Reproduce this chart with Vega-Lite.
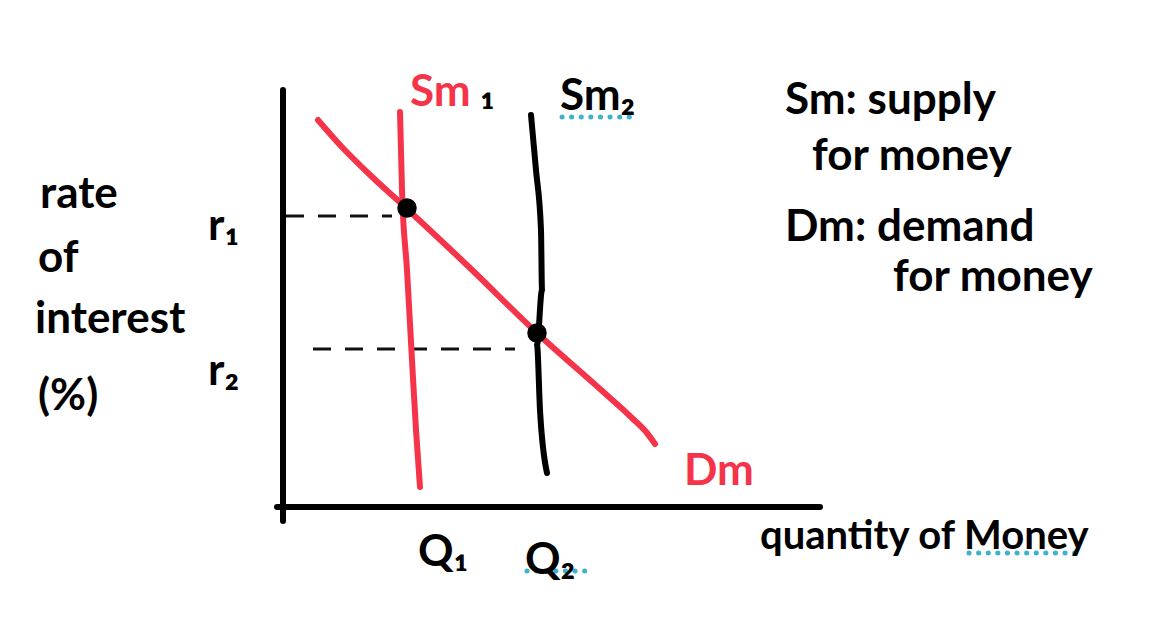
{
  "$schema": "https://vega.github.io/schema/vega-lite/v6.json",
  "width": 1157,
  "height": 617,
  "autosize": {"type": "none"},
  "padding": 0,
  "background": "white",
  "config": {"view": {"stroke": null}},
  "resolve": {"scale": {"color": "independent"}},
  "datasets": {
    "curves": [
      {"series": "yaxis", "o": 1, "x": 283, "y": 90},
      {"series": "yaxis", "o": 2, "x": 283, "y": 521},
      {"series": "xaxis", "o": 1, "x": 277, "y": 507},
      {"series": "xaxis", "o": 2, "x": 820, "y": 507},
      {"series": "Sm2", "o": 1, "x": 531, "y": 115},
      {"series": "Sm2", "o": 2, "x": 536, "y": 170},
      {"series": "Sm2", "o": 3, "x": 541, "y": 230},
      {"series": "Sm2", "o": 4, "x": 542, "y": 290},
      {"series": "Sm2", "o": 5, "x": 537, "y": 345},
      {"series": "Sm2", "o": 6, "x": 540, "y": 410},
      {"series": "Sm2", "o": 7, "x": 547, "y": 473},
      {"series": "Sm1", "o": 1, "x": 400, "y": 112},
      {"series": "Sm1", "o": 2, "x": 402, "y": 190},
      {"series": "Sm1", "o": 3, "x": 407, "y": 270},
      {"series": "Sm1", "o": 4, "x": 412, "y": 360},
      {"series": "Sm1", "o": 5, "x": 416, "y": 430},
      {"series": "Sm1", "o": 6, "x": 420, "y": 487},
      {"series": "Dm", "o": 1, "x": 318, "y": 120},
      {"series": "Dm", "o": 2, "x": 340, "y": 145},
      {"series": "Dm", "o": 3, "x": 368, "y": 173},
      {"series": "Dm", "o": 4, "x": 405, "y": 207},
      {"series": "Dm", "o": 5, "x": 470, "y": 268},
      {"series": "Dm", "o": 6, "x": 537, "y": 333},
      {"series": "Dm", "o": 7, "x": 600, "y": 389},
      {"series": "Dm", "o": 8, "x": 632, "y": 418},
      {"series": "Dm", "o": 9, "x": 647, "y": 433},
      {"series": "Dm", "o": 10, "x": 655, "y": 444}
    ],
    "dashes": [
      {"x": 286, "x2": 392, "y": 216},
      {"x": 313, "x2": 515, "y": 349}
    ],
    "dots": [
      {"x": 562, "x2": 636, "y": 117},
      {"x": 527, "x2": 585, "y": 571},
      {"x": 969, "x2": 1081, "y": 553}
    ],
    "points": [
      {"x": 407, "y": 208},
      {"x": 537, "y": 333}
    ],
    "notes": [
      {"label": "Sm: supply", "x": 785, "y": 114},
      {"label": "for money", "x": 812, "y": 170},
      {"label": "Dm: demand", "x": 785, "y": 241},
      {"label": "for money", "x": 893, "y": 291},
      {"label": "rate", "x": 40, "y": 208},
      {"label": "of", "x": 38, "y": 272},
      {"label": "interest", "x": 35, "y": 333},
      {"label": "(%)", "x": 38, "y": 410}
    ],
    "axisTitle": [
      {"label": "quantity of Money", "x": 760, "y": 549}
    ],
    "labels": [
      {"label": "Sm₂", "x": 560, "y": 110, "role": "black"},
      {"label": "r₁", "x": 208, "y": 240, "role": "black"},
      {"label": "r₂", "x": 208, "y": 385, "role": "black"},
      {"label": "Q₁", "x": 418, "y": 566, "role": "black"},
      {"label": "Q₂", "x": 525, "y": 574, "role": "black"},
      {"label": "Sm", "x": 410, "y": 106, "role": "red"},
      {"label": "Dm", "x": 684, "y": 485, "role": "red"},
      {"label": "₁", "x": 480, "y": 104, "role": "black"}
    ]
  },
  "layer": [
    {
      "data": {"name": "dashes"},
      "mark": {"type": "rule", "strokeWidth": 3, "strokeDash": [18, 14], "color": "#111"},
      "encoding": {
        "x": {"field": "x", "type": "quantitative", "scale": {"domain": [0, 1157], "nice": false, "zero": false}, "axis": null},
        "x2": {"field": "x2"},
        "y": {"field": "y", "type": "quantitative", "scale": {"domain": [0, 617], "reverse": true, "nice": false, "zero": false}, "axis": null}
      }
    },
    {
      "data": {"name": "dots"},
      "mark": {"type": "rule", "strokeWidth": 5, "strokeDash": [0.1, 9.5], "strokeCap": "round", "color": "#3cb3cb"},
      "encoding": {
        "x": {"field": "x", "type": "quantitative"},
        "x2": {"field": "x2"},
        "y": {"field": "y", "type": "quantitative"}
      }
    },
    {
      "data": {"name": "curves"},
      "mark": {"type": "line", "strokeWidth": 6, "interpolate": "monotone", "strokeCap": "round", "strokeJoin": "round"},
      "encoding": {
        "x": {"field": "x", "type": "quantitative"},
        "y": {"field": "y", "type": "quantitative"},
        "order": {"field": "o", "type": "quantitative"},
        "detail": {"field": "series"},
        "color": {
          "field": "series",
          "type": "nominal",
          "scale": {"domain": ["yaxis", "xaxis", "Sm2", "Sm1", "Dm"], "range": ["#000000", "#000000", "#000000", "#f5344a", "#f5344a"]},
          "legend": null
        }
      }
    },
    {
      "data": {"name": "points"},
      "mark": {"type": "point", "filled": true, "shape": "circle", "size": 380, "color": "#000000", "opacity": 1},
      "encoding": {
        "x": {"field": "x", "type": "quantitative"},
        "y": {"field": "y", "type": "quantitative"}
      }
    },
    {
      "data": {"name": "notes"},
      "mark": {"type": "text", "align": "left", "baseline": "alphabetic", "font": "Lato", "fontSize": 44, "fontWeight": "bold", "color": "#000000"},
      "encoding": {
        "x": {"field": "x", "type": "quantitative"},
        "y": {"field": "y", "type": "quantitative"},
        "text": {"field": "label"}
      }
    },
    {
      "data": {"name": "axisTitle"},
      "mark": {"type": "text", "align": "left", "baseline": "alphabetic", "font": "Lato", "fontSize": 40, "fontWeight": "bold", "color": "#000000"},
      "encoding": {
        "x": {"field": "x", "type": "quantitative"},
        "y": {"field": "y", "type": "quantitative"},
        "text": {"field": "label"}
      }
    },
    {
      "data": {"name": "labels"},
      "mark": {"type": "text", "align": "left", "baseline": "alphabetic", "font": "Lato", "fontSize": 44, "fontWeight": "bold"},
      "encoding": {
        "x": {"field": "x", "type": "quantitative"},
        "y": {"field": "y", "type": "quantitative"},
        "text": {"field": "label"},
        "color": {"field": "role", "type": "nominal", "scale": {"domain": ["black", "red"], "range": ["#000000", "#f5344a"]}, "legend": null}
      }
    }
  ]
}
